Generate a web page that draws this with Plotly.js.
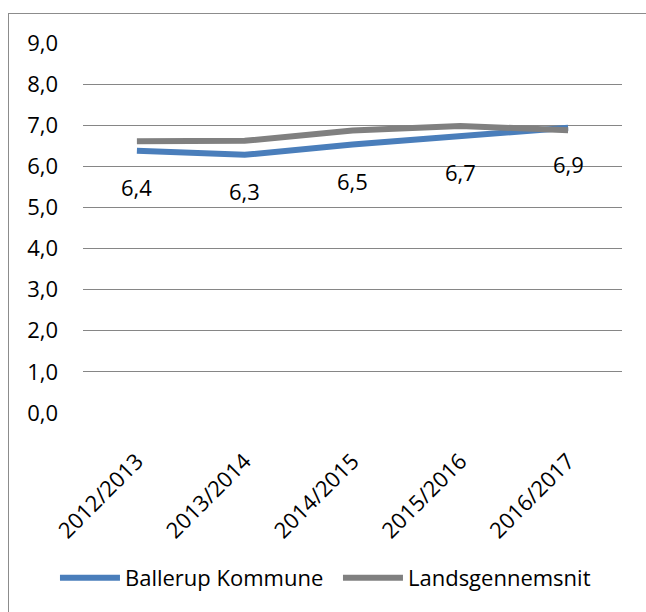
<!DOCTYPE html>
<html>
<head>
<meta charset="utf-8">
<script src="https://cdn.plot.ly/plotly-3.0.1.min.js"></script>
<style>
html,body{margin:0;padding:0;background:#fff;}
#wrap{position:relative;width:646px;height:612px;}
#chart{position:absolute;left:0;top:0;width:646px;height:612px;}
#frame{position:absolute;left:8px;top:13px;width:660px;height:620px;border-left:1px solid #8c8c8c;border-top:1px solid #8c8c8c;pointer-events:none;}
</style>
</head>
<body>
<div id="wrap"><div id="chart"></div><div id="frame"></div></div>
<script>
var categories = ["2012/2013", "2013/2014", "2014/2015", "2015/2016", "2016/2017"];
var seriesNames = ["Ballerup Kommune", "Landsgennemsnit"];
var ballerup = [6.38, 6.28, 6.53, 6.74, 6.94];
var landsgennemsnit = [6.61, 6.62, 6.87, 6.98, 6.88];
var yTickVals = [0, 1, 2, 3, 4, 5, 6, 7, 8, 9];
var yTickText = ["0,0", "1,0", "2,0", "3,0", "4,0", "5,0", "6,0", "7,0", "8,0", "9,0"];

var FONT = "Open Sans, Liberation Sans, sans-serif";

function fmt(v){ return v.toFixed(1).replace(".", ","); }

var traces = [
  {x: categories, y: ballerup, name: seriesNames[0], type: "scatter", mode: "lines",
   line: {color: "#4A7EBB", width: 6}, hoverinfo: "skip"},
  {x: categories, y: landsgennemsnit, name: seriesNames[1], type: "scatter", mode: "lines",
   line: {color: "#808080", width: 6}, hoverinfo: "skip"}
];

var annotations = categories.map(function(c, i){
  return {x: c, y: ballerup[i], xref: "x", yref: "y", text: fmt(ballerup[i]),
          showarrow: false, yshift: -36, font: {family: FONT, size: 22, color: "#000"}};
});

var layout = {
  width: 646, height: 612,
  margin: {l: 83, r: 24, t: 43, b: 199},
  paper_bgcolor: "#fff", plot_bgcolor: "#fff",
  font: {family: FONT, size: 22, color: "#000"},
  showlegend: true,
  legend: {orientation: "h", x: -0.052, xanchor: "left", y: -0.446, yanchor: "middle",
           font: {family: FONT, size: 22, color: "#000"}, itemwidth: 60, entrywidth: 208,
           tracegroupgap: 0, bgcolor: "rgba(0,0,0,0)"},
  xaxis: {type: "category", range: [-0.5, 4.5], tickangle: -45, showgrid: false, zeroline: false,
          showline: false, ticks: "", ticklabelstandoff: 30,
          tickfont: {family: FONT, size: 22, color: "#000"}, fixedrange: true},
  yaxis: {range: [0, 9], tickvals: yTickVals, ticktext: yTickText, showgrid: true,
          gridcolor: "#868686", gridwidth: 1, zeroline: false, showline: false, ticks: "",
          ticklabelstandoff: 24, tickfont: {family: FONT, size: 22, color: "#000"}, fixedrange: true},
  annotations: annotations
};

Plotly.newPlot("chart", traces, layout, {displayModeBar: false, staticPlot: true});
</script>
</body>
</html>
